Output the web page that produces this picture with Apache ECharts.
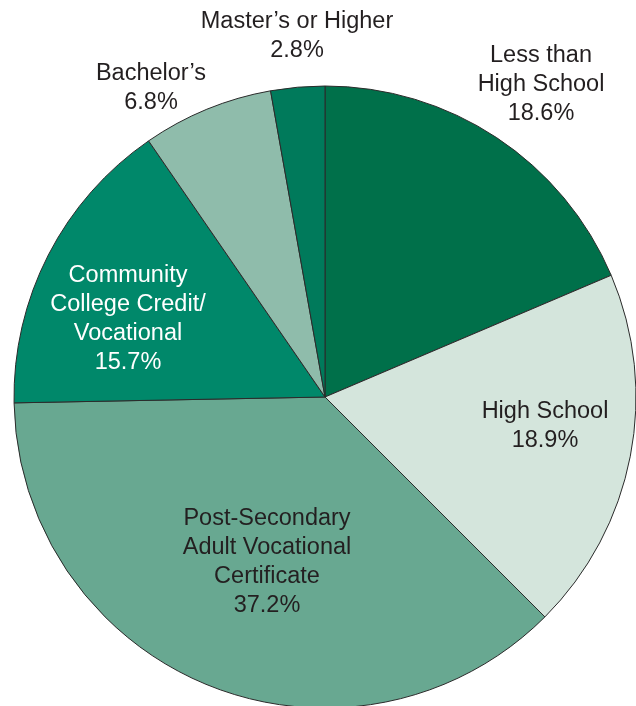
<!DOCTYPE html>
<html>
<head>
<meta charset="utf-8">
<script src="https://cdn.jsdelivr.net/npm/echarts@6/dist/echarts.min.js"></script>
<style>
html,body{margin:0;padding:0;background:#fff;}
#chart{width:636px;height:706px;}
</style>
</head>
<body>
<div id="chart"></div>
<script>
// Data
const categories = [
  "Less than\nHigh School",
  "High School",
  "Post-Secondary\nAdult Vocational\nCertificate",
  "Community\nCollege Credit/\nVocational",
  "Bachelor’s",
  "Master’s or Higher"
];
const values = [18.6, 18.9, 37.2, 15.7, 6.8, 2.8];

// Styles
const colors = ["#00704a", "#d4e5dc", "#68a891", "#00886a", "#8fbcab", "#007a5b"];
const labelColors = ["#231f20", "#231f20", "#231f20", "#ffffff", "#231f20", "#231f20"];
// label offsets measured from the pie centre
const labelOffsets = [[216, -312], [220, 29], [-58, 165], [-197, -78], [-174, -309], [-28, -361]];

const data = categories.map((name, i) => ({
  name: name,
  value: values[i],
  itemStyle: { color: colors[i] },
  label: { color: labelColors[i], offset: labelOffsets[i] }
}));

const chart = echarts.init(document.getElementById('chart'), null, { renderer: 'canvas' });
chart.setOption({
  animation: false,
  backgroundColor: '#ffffff',
  series: [{
    type: 'pie',
    center: [325, 397],
    radius: 311,
    startAngle: 90,
    clockwise: true,
    avoidLabelOverlap: false,
    minShowLabelAngle: 0,
    itemStyle: { borderColor: '#2b2b2b', borderWidth: 1 },
    label: {
      show: true,
      position: 'center',
      fontFamily: 'Liberation Sans, Arial, sans-serif',
      fontSize: 23.5,
      lineHeight: 29,
      align: 'center',
      formatter: p => p.name + '\n' + p.value.toFixed(1) + '%'
    },
    labelLayout: { hideOverlap: false },
    labelLine: { show: false },
    emphasis: { disabled: true },
    data: data
  }]
});
</script>
</body>
</html>
